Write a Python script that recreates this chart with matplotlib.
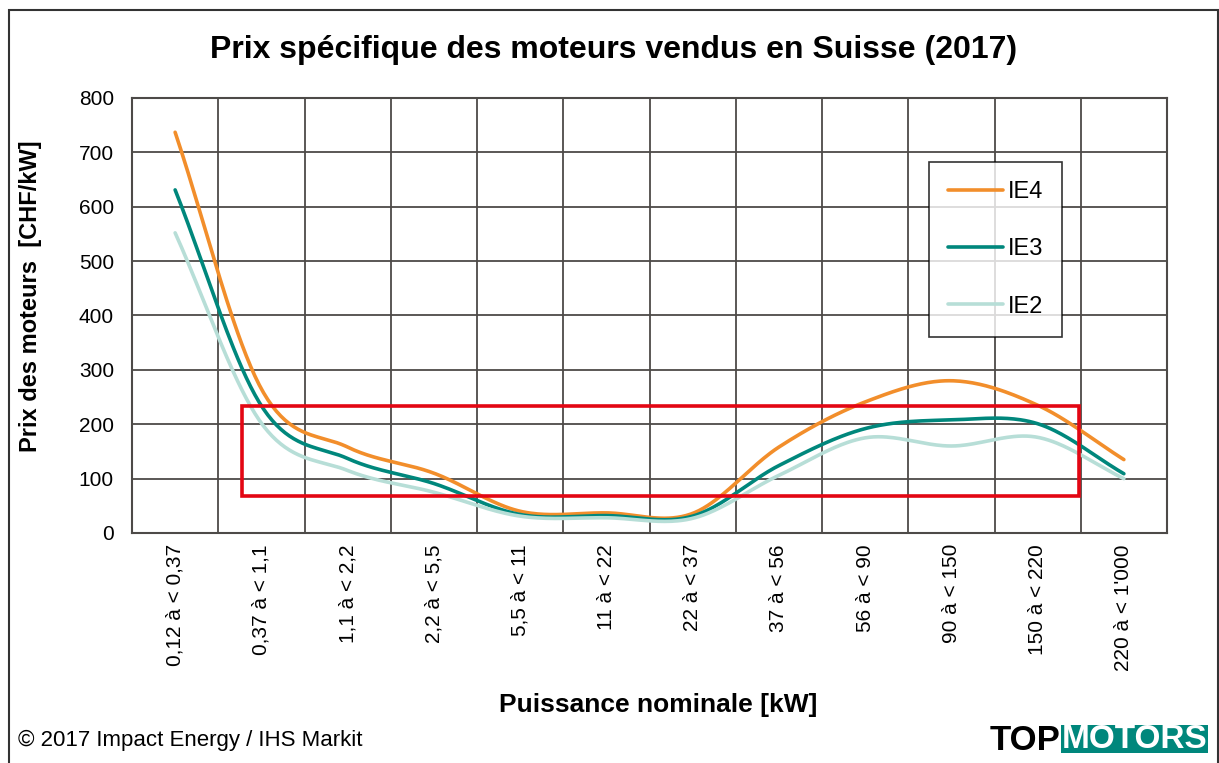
import numpy as np
import matplotlib
matplotlib.use("Agg")
import matplotlib.pyplot as plt
from matplotlib.patches import Rectangle

plt.rcParams['font.family'] = ['Liberation Sans', 'DejaVu Sans']

categories = ["0,12 à < 0,37", "0,37 à < 1,1", "1,1 à < 2,2", "2,2 à < 5,5",
              "5,5 à < 11", "11 à < 22", "22 à < 37", "37 à < 56",
              "56 à < 90", "90 à < 150", "150 à < 220", "220 à < 1'000"]
ie4 = [737, 265, 158, 110, 40, 37, 36, 158, 241, 280, 235, 135]
ie3 = [631, 234, 137, 91, 34, 32, 31, 124, 192, 208, 201, 109]
ie2 = [552, 202, 115, 75, 31, 28, 27, 106, 175, 160, 176, 100]
series = [("IE4", ie4, "#F28E2B"), ("IE3", ie3, "#00877C"), ("IE2", ie2, "#B7DED7")]
yticks = [0, 100, 200, 300, 400, 500, 600, 700, 800]
highlight_x = (0.78, 10.48)
highlight_y = (68, 233)


def smooth(y, n=40):
    """Catmull-Rom style smoothing (like Excel's smoothed line)."""
    y = np.asarray(y, float)
    xs, ys = [], []
    m = len(y)
    for i in range(m - 1):
        p0 = y[i - 1] if i > 0 else y[i]
        p1, p2 = y[i], y[i + 1]
        p3 = y[i + 2] if i + 2 < m else y[i + 1]
        t1 = (p2 - p0) / 2 if i > 0 else (p2 - p1)
        t2 = (p3 - p1) / 2 if i + 2 < m else (p2 - p1)
        t = np.linspace(0, 1, n, endpoint=False)
        h00 = 2 * t**3 - 3 * t**2 + 1
        h10 = t**3 - 2 * t**2 + t
        h01 = -2 * t**3 + 3 * t**2
        h11 = t**3 - t**2
        xs.append(i + t)
        ys.append(h00 * p1 + h10 * t1 + h01 * p2 + h11 * t2)
    xs.append(np.array([m - 1.0]))
    ys.append(np.array([y[-1]]))
    return np.concatenate(xs), np.concatenate(ys)


fig = plt.figure(figsize=(12.19, 7.63), dpi=100)
W, H = 1219, 763
ax = fig.add_axes([132 / W, 1 - 533 / H, (1167 - 132) / W, (533 - 98) / H])

n = len(categories)
ax.set_xlim(-0.5, n - 0.5)
ax.set_ylim(0, 800)
ax.set_yticks(yticks)
ax.set_yticklabels([str(v) for v in yticks], fontsize=15)
ax.set_xticks(np.arange(n))
ax.set_xticklabels(categories, rotation=90, fontsize=15, va='top', ha='center')
ax.tick_params(axis='x', length=0, pad=8)
ax.tick_params(axis='y', length=0, pad=13)

grid_c = "#4d4a48"
for b in np.arange(-0.5, n, 1.0):
    ax.axvline(b, color=grid_c, lw=1.3, zorder=1)
for v in yticks:
    ax.axhline(v, color=grid_c, lw=1.3, zorder=1)
for s in ax.spines.values():
    s.set_color(grid_c)
    s.set_linewidth(1.5)

for name, vals, col in series:
    xs, ys = smooth(vals)
    ax.plot(xs, ys, color=col, lw=2.6, label=name, zorder=3, solid_capstyle='round')

ax.add_patch(Rectangle((highlight_x[0], highlight_y[0]), highlight_x[1] - highlight_x[0],
                       highlight_y[1] - highlight_y[0], fill=False, edgecolor="#E30613",
                       lw=2.6, zorder=4))

leg = ax.legend(loc='upper left', bbox_to_anchor=((929 - 132) / (1167 - 132), (533 - 162) / (533 - 98)),
                fontsize=17, frameon=True, fancybox=False, edgecolor='black',
                handlelength=2.35, labelspacing=1.5, borderpad=0.8, handletextpad=0.2,
                borderaxespad=0)
leg.get_frame().set_linewidth(1.2)
leg.set_zorder(5)

ax.set_ylabel("Prix des moteurs  [CHF/kW]", fontsize=17, fontweight='bold')
ax.yaxis.set_label_coords(-(132 - 42) / (1167 - 132), (533 - 296) / (533 - 98))
fig.text(658 / W, 1 - 705 / H, "Puissance nominale [kW]", fontsize=19,
         fontweight='bold', ha='center', va='center')
fig.text(614 / W, 1 - 50 / H, "Prix spécifique des moteurs vendus en Suisse (2017)",
         fontsize=23, fontweight='bold', ha='center', va='center')
fig.text(18 / W, 1 - 740 / H, "© 2017 Impact Energy / IHS Markit", fontsize=16,
         ha='left', va='center')

# logo
fig.text(1060 / W, 1 - 740 / H, "TOP", fontsize=25, fontweight='bold', ha='right',
         va='center', color='black')
fig.patches.append(Rectangle((1061 / W, 1 - 753 / H), (1208 - 1061) / W, 28 / H,
                             transform=fig.transFigure, fc='#00877C', ec='none'))
fig.text((1061 + 1208) / 2 / W, 1 - 740 / H, "MOTORS", fontsize=24, fontweight='bold',
         ha='center', va='center', color='white')

# outer border
fig.patches.append(Rectangle((9 / W, -0.05), (1218 - 9) / W, 1 - 10 / H + 0.05,
                             transform=fig.transFigure, fill=False, edgecolor='#333333',
                             lw=1.5))

fig.savefig("out.png", dpi=100)
